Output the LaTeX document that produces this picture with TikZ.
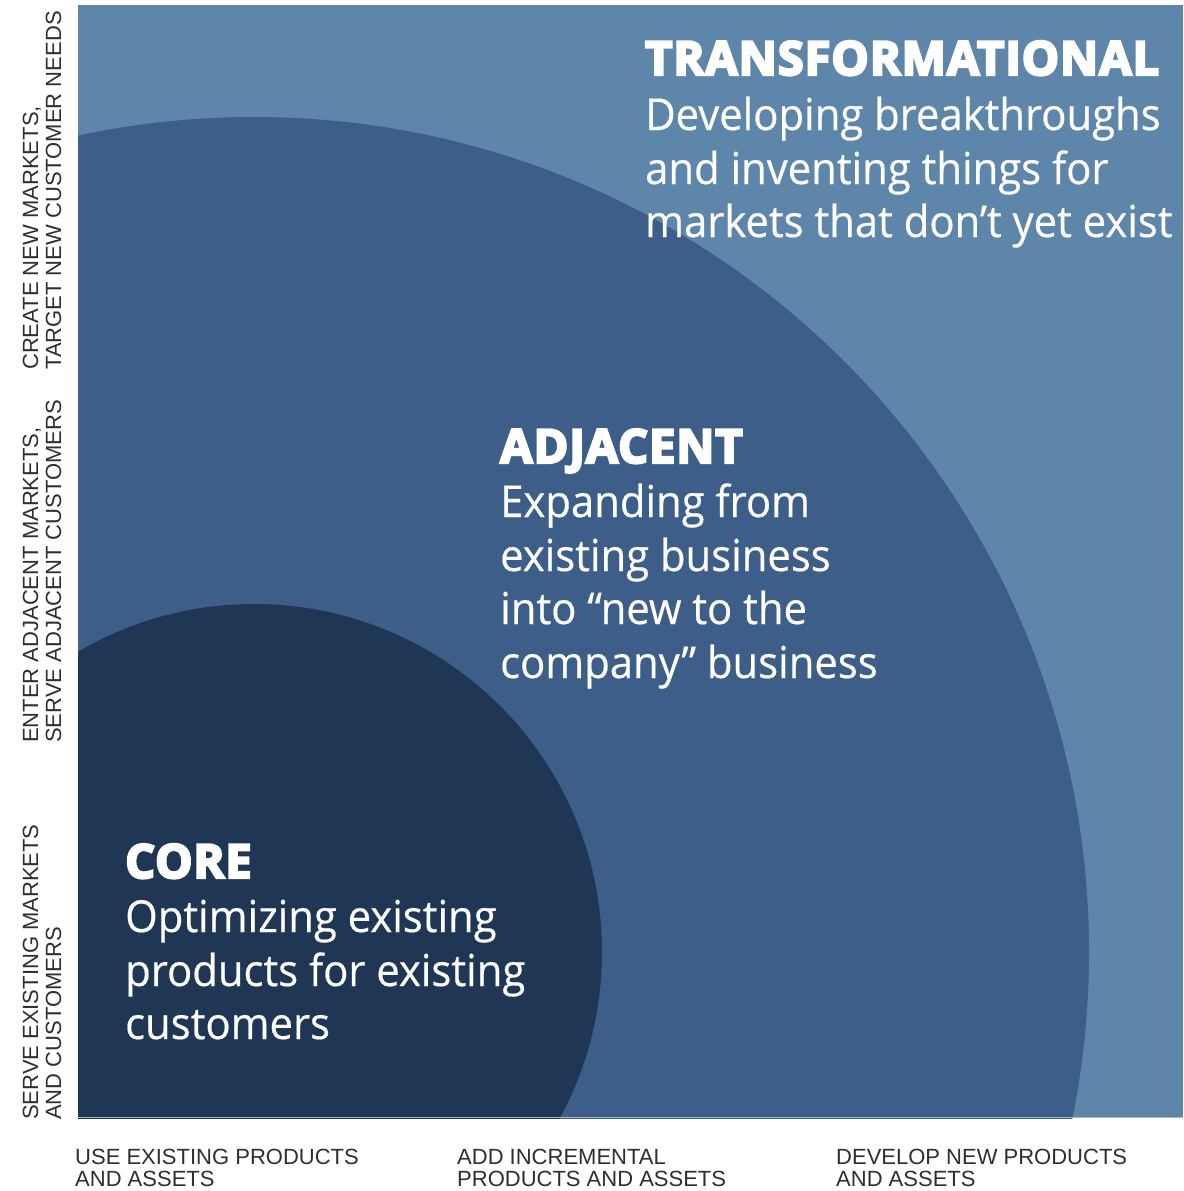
\documentclass[tikz,border=0pt]{standalone}
\usepackage{fontspec}
\setmainfont{Open Sans}
\newfontfamily\bodyfont{Open Sans}[FakeStretch=0.95, FakeBold=0.4]
\newfontfamily\headfont{Open Sans}[BoldFeatures={FakeBold=5, LetterSpace=2}]
\newfontfamily\axisfont{Liberation Sans}
\definecolor{lightblue}{HTML}{5E86AB}
\definecolor{midblue}{HTML}{3D5E89}
\definecolor{darkblue}{HTML}{1F3755}
\definecolor{axisgray}{HTML}{2F2F2F}
\definecolor{edgeline}{HTML}{A8B7CB}
\begin{document}
\begin{tikzpicture}[x=1pt,y=-1pt,
  heading/.style={anchor=base west, inner sep=0pt, text=white, font=\headfont\bfseries\fontsize{47}{54}\selectfont},
  bodyline/.style={anchor=base west, inner sep=0pt, text=white, font=\bodyfont\fontsize{44}{54}\selectfont},
  axislabel/.style={anchor=base west, inner sep=0pt, text=axisgray, font=\axisfont\fontsize{22}{24}\selectfont},
  sidelabel/.style={axislabel, rotate=90}]
\useasboundingbox (0,0) rectangle (1183,1191);
\fill[white] (0,0) rectangle (1183,1191);
\begin{scope}
  \clip (78,5) rectangle (1183,1118);
  \fill[lightblue] (78,5) rectangle (1183,1118);
  \fill[midblue] (254,952) circle[radius=835pt];
  \fill[darkblue] (254,952) circle[radius=348pt];
\end{scope}
\draw[edgeline, line width=1.5pt] (78,1117.5) -- (1183,1117.5);
% transformational
\node[heading] (th) at (645,75) {TRANSFORMATIONAL};
\node[bodyline] (t1) at (645,130) {Developing breakthroughs};
\node[bodyline] (t2) at (645,184) {and inventing things for};
\node[bodyline] (t3) at (645,237) {markets that don’t yet exist};
% adjacent
\node[heading] (ah) at (500,463) {ADJACENT};
\node[bodyline] (a1) at (500,517) {Expanding from};
\node[bodyline] (a2) at (500,571) {existing business};
\node[bodyline] (a3) at (500,624) {into “new to the};
\node[bodyline] (a4) at (500,678) {company” business};
% core
\node[heading] (ch) at (125,878) {CORE};
\node[bodyline] (c1) at (125,932) {Optimizing existing};
\node[bodyline] (c2) at (125,986) {products for existing};
\node[bodyline] (c3) at (125,1039) {customers};
% bottom labels
\node[axislabel] (b1a) at (75,1164) {USE EXISTING PRODUCTS};
\node[axislabel] (b1b) at (75,1186) {AND ASSETS};
\node[axislabel] (b2a) at (457,1164) {ADD INCREMENTAL};
\node[axislabel] (b2b) at (457,1186) {PRODUCTS AND ASSETS};
\node[axislabel] (b3a) at (836,1164) {DEVELOP NEW PRODUCTS};
\node[axislabel] (b3b) at (836,1186) {AND ASSETS};
% side labels
\node[sidelabel] (l1a) at (38,370) {CREATE NEW MARKETS,};
\node[sidelabel] (l1b) at (61,370) {TARGET NEW CUSTOMER NEEDS};
\node[sidelabel] (l2a) at (38,743) {ENTER ADJACENT MARKETS,};
\node[sidelabel] (l2b) at (61,743) {SERVE ADJACENT CUSTOMERS};
\node[sidelabel] (l3a) at (38,1120) {SERVE EXISTING MARKETS};
\node[sidelabel] (l3b) at (61,1120) {AND CUSTOMERS};
\end{tikzpicture}
\end{document}
